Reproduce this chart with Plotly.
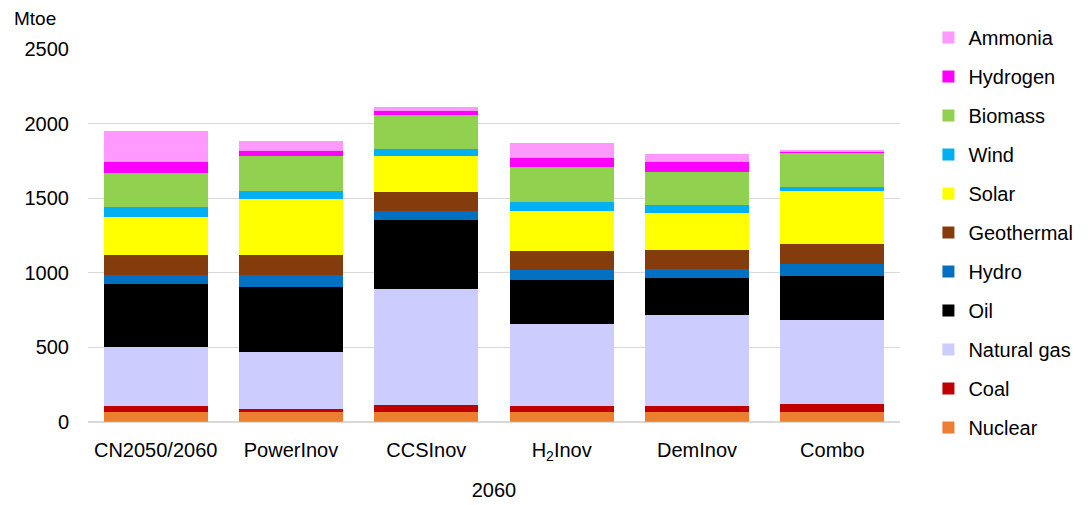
import plotly.graph_objects as go

# Scenario categories for 2060
scenarios = ["CN2050/2060", "PowerInov", "CCSInov", "H<sub>2</sub>Inov", "DemInov", "Combo"]

# Primary energy supply by source (Mtoe), bottom to top of the stack
nuclear     = [63, 63, 65, 65, 63, 63]
coal        = [42, 22, 47, 43, 40, 58]
natural_gas = [395, 385, 782, 549, 612, 562]
oil         = [427, 433, 459, 297, 253, 298]
hydro       = [61, 81, 61, 63, 56, 81]
geothermal  = [128, 136, 128, 130, 128, 134]
solar       = [260, 372, 239, 269, 251, 350]
wind        = [67, 60, 52, 62, 49, 27]
biomass     = [228, 229, 228, 232, 226, 233]
hydrogen    = [72, 36, 22, 62, 67, 8]
ammonia     = [210, 65, 30, 99, 54, 2]

series = [
    ("Nuclear", nuclear, "#ED7D31"),
    ("Coal", coal, "#C00000"),
    ("Natural gas", natural_gas, "#CCCCFF"),
    ("Oil", oil, "#000000"),
    ("Hydro", hydro, "#0070C0"),
    ("Geothermal", geothermal, "#843C0C"),
    ("Solar", solar, "#FFFF00"),
    ("Wind", wind, "#00B0F0"),
    ("Biomass", biomass, "#92D050"),
    ("Hydrogen", hydrogen, "#FF00FF"),
    ("Ammonia", ammonia, "#FF99FF"),
]

font_family = "Liberation Sans, Arial, sans-serif"

W, H = 1088, 505
M_T, M_B = 10, 10
plot_h = H - M_T - M_B


def frac(py):
    """Paper fraction for a pixel row measured from the top of the page."""
    return (H - M_B - py) / plot_h


fig = go.Figure()
n = len(series)
for i, (name, vals, color) in enumerate(series):
    fig.add_trace(go.Bar(
        name=name, x=scenarios, y=vals,
        marker=dict(color=color, line=dict(width=0)),
        legendgroup=name,
        legendrank=100 + (n - i),  # top of the stack listed first
    ))

fig.update_layout(
    barmode="stack",
    bargap=0.23,
    width=W, height=H,
    margin=dict(l=88, r=174, t=M_T, b=M_B),
    paper_bgcolor="white",
    plot_bgcolor="white",
    font=dict(family=font_family, size=20, color="#000000"),
    showlegend=True,
    legend=dict(
        traceorder="grouped",
        tracegroupgap=10,
        x=1.035, xanchor="left",
        y=frac(18), yanchor="top",
        font=dict(size=20, family=font_family),
        itemwidth=30,
        bgcolor="rgba(0,0,0,0)",
    ),
    xaxis=dict(
        title=dict(text="2060", font=dict(size=20), standoff=20),
        showgrid=False,
        showline=True, linecolor="#D9D9D9", linewidth=1,
        ticks="", ticklabelstandoff=10,
        tickfont=dict(size=20),
        automargin=False,
    ),
    yaxis=dict(
        domain=[frac(421.7), frac(49.3)],
        range=[0, 2500],
        tickvals=[0, 500, 1000, 1500, 2000, 2500],
        showgrid=True, gridcolor="#D9D9D9", gridwidth=1,
        zeroline=True, zerolinecolor="#D9D9D9", zerolinewidth=1,
        ticks="", ticklabelstandoff=18,
        tickfont=dict(size=20),
        automargin=False,
    ),
    annotations=[dict(
        text="Mtoe", xref="paper", yref="paper",
        x=-0.094, y=frac(18), xanchor="left", yanchor="middle",
        showarrow=False, font=dict(size=19, family=font_family),
    )],
)

fig.write_html("out.html")
